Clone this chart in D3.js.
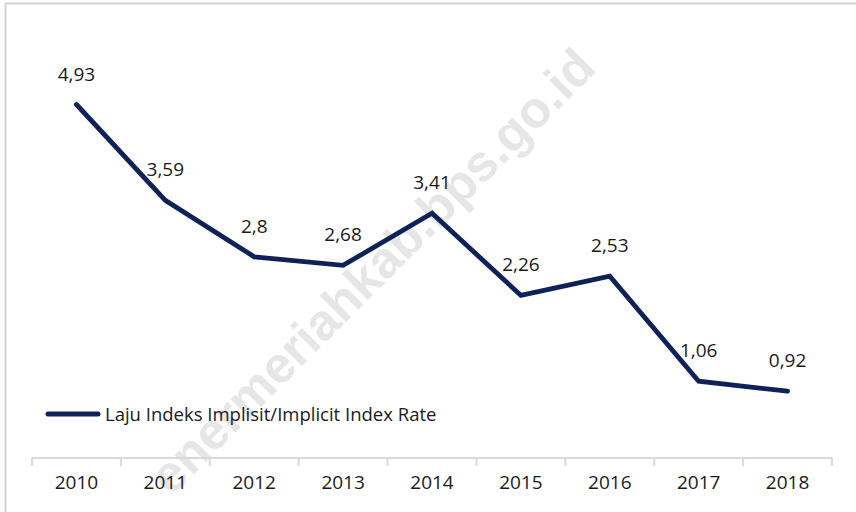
<!DOCTYPE html>
<html>
<head>
<meta charset="utf-8">
<script src="https://cdn.jsdelivr.net/npm/d3@7"></script>
<style>
  body { margin: 0; background: #fff; }
  svg { display: block; }
</style>
</head>
<body>
<div id="chart"></div>
<script>
// data
var years = ["2010", "2011", "2012", "2013", "2014", "2015", "2016", "2017", "2018"];
var rates = [4.93, 3.59, 2.8, 2.68, 3.41, 2.26, 2.53, 1.06, 0.92];
var seriesName = "Laju Indeks Implisit/Implicit Index Rate";
var watermark = "enermeriahkab.bps.go.id";   // leading "b" falls outside the picture

var W = 856, H = 512;
var font = "'Open Sans', sans-serif";
var lineColor = "#0e2158";

var svg = d3.select("#chart").append("svg")
    .attr("width", W)
    .attr("height", H);

// chart frame (only top and left edges show)
svg.append("path")
    .attr("d", "M5.5,512V3.5H856")
    .attr("fill", "none")
    .attr("stroke", "#d4d4d4")
    .attr("stroke-width", 2);

var x = d3.scaleBand().domain(years).range([32, 832]);
var y = d3.scaleLinear().domain([0, 5]).range([457, 99.5]);

var data = years.map(function (d, i) { return { year: d, value: rates[i] }; });

// watermark behind the line
svg.append("text")
    .attr("transform", "translate(598,70) rotate(-45)")
    .attr("text-anchor", "end")
    .style("font-family", "'Liberation Sans', Arial, sans-serif")
    .style("font-weight", "bold")
    .style("font-size", "51px")
    .style("fill", "#e6e6e6")
    .text(watermark);

// category axis
var axisY = 458;
var ax = svg.append("g")
    .attr("transform", "translate(0," + axisY + ")")
    .call(d3.axisBottom(x).tickSize(0).tickPadding(18));
ax.select(".domain").remove();
ax.selectAll("text")
    .style("font-family", font)
    .style("font-size", "19px")
    .style("fill", "#1a1a1a");

var edges = years.map(function (d) { return x(d); }).concat([x.range()[1]]);
ax.append("line")
    .attr("x1", x.range()[0]).attr("x2", x.range()[1])
    .attr("stroke", "#d9d9d9").attr("stroke-width", 2);
ax.selectAll(".edge").data(edges).enter().append("line")
    .attr("class", "edge")
    .attr("x1", function (d) { return d; }).attr("x2", function (d) { return d; })
    .attr("y1", 0).attr("y2", 8)
    .attr("stroke", "#d9d9d9").attr("stroke-width", 2);

// series line
var line = d3.line()
    .x(function (d) { return x(d.year) + x.bandwidth() / 2; })
    .y(function (d) { return y(d.value); });

svg.append("path")
    .datum(data)
    .attr("d", line)
    .attr("fill", "none")
    .attr("stroke", lineColor)
    .attr("stroke-width", 4.8)
    .attr("stroke-linejoin", "miter")
    .attr("stroke-linecap", "round");

// value labels (comma decimal)
svg.selectAll(".lbl").data(data).enter().append("text")
    .attr("class", "lbl")
    .attr("x", function (d) { return x(d.year) + x.bandwidth() / 2; })
    .attr("y", function (d) { return y(d.value) - 24; })
    .attr("text-anchor", "middle")
    .style("font-family", font)
    .style("font-size", "19px")
    .style("fill", "#1a1a1a")
    .text(function (d) { return String(d.value).replace(".", ","); });

// legend
var lg = svg.append("g").attr("transform", "translate(48,414)");
lg.append("line")
    .attr("x1", 0).attr("x2", 50)
    .attr("stroke", lineColor).attr("stroke-width", 5)
    .attr("stroke-linecap", "round");
lg.append("text")
    .attr("x", 57).attr("y", 7)
    .style("font-family", font)
    .style("font-size", "18.5px")
    .style("fill", "#1a1a1a")
    .text(seriesName);
</script>
</body>
</html>
